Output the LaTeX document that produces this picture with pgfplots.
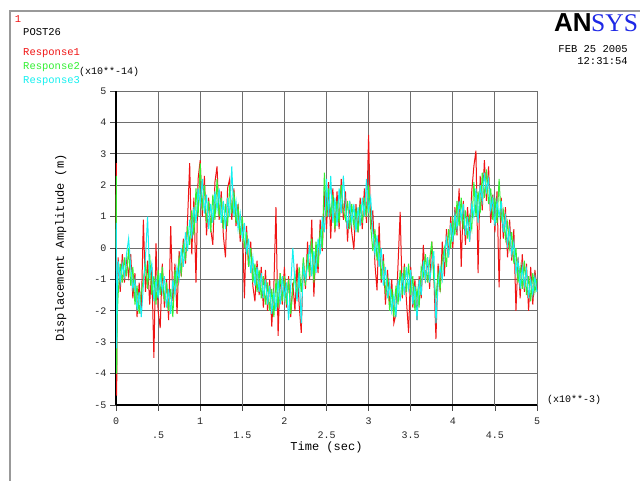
\documentclass[border=0pt]{standalone}
\usepackage{pgfplots}
\usepackage{pgfplotstable}
\usepackage{fontspec}
\pgfplotsset{compat=1.18}
\newfontfamily\mono{Liberation Mono}
\newfontfamily\lsans{Liberation Sans}
\newfontfamily\lserif{Liberation Serif}
\definecolor{gridc}{RGB}{110,110,110}
\definecolor{rred}{RGB}{240,20,20}
\definecolor{rgreen}{RGB}{50,240,50}
\definecolor{rcyan}{RGB}{20,240,240}
\definecolor{ansysblue}{RGB}{30,40,230}

% time in 1e-3 s, amplitude in 1e-14 m
\pgfplotstableread{
t r g c
0 0 0 0
0.004 2.7 2.3 0.8
0.008 -4.7 -4.0 -3.2
0.014 -1.6 -2.2 -1.5
0.025 -0.3 -1.5 -0.4
0.05 -1.4 -0.5 -1.1
0.075 -0.2 -1.1 -0.5
0.1 -1.1 -0.3 -0.9
0.125 -0.3 -0.9 -0.2
0.15 -0.9 0.0 0.3
0.175 -0.2 -1.2 -0.6
0.2 -1.6 -0.6 -1.3
0.225 -0.8 -1.8 -1.0
0.25 -2.2 -1.2 -2.0
0.275 -1.1 -2.1 -1.4
0.3 -2.1 -1.4 -2.2
0.325 0.9 -1.0 -1.2
0.35 -1.4 -0.5 -0.3
0.375 -0.4 -1.3 1.0
0.4 -1.8 -0.2 -0.9
0.425 -0.6 -1.5 -0.5
0.45 -3.5 -0.9 -1.7
0.475 0.15 -1.8 -1.0
0.5 -2.0 -0.7 -1.6
0.525 -2.55 -1.5 -0.8
0.55 -0.5 -0.6 -1.4
0.575 -1.9 -1.7 -0.9
0.6 -1.0 -1.1 -1.9
0.625 -2.3 -2.0 -1.3
0.65 0.7 -1.3 -2.1
0.675 -1.7 -2.2 -1.0
0.7 -0.5 -0.7 -1.5
0.725 -2.1 -1.2 -0.6
0.75 -0.1 -0.3 -1.0
0.775 -0.9 -0.8 0.0
0.8 0.3 0.1 -0.6
0.825 -0.5 -0.4 0.5
0.85 0.9 0.7 -0.1
0.875 2.7 0.1 0.9
0.9 -0.2 1.2 0.3
0.925 1.6 0.4 1.3
0.95 -1.1 1.9 0.8
0.975 2.2 1.0 1.9
1.0 2.8 2.7 1.4
1.025 1.0 1.2 2.2
1.05 2.3 2.0 1.1
1.075 0.4 0.8 1.7
1.1 1.6 1.5 0.6
1.125 0.6 0.5 1.4
1.15 0.1 1.7 0.8
1.175 2.1 0.9 1.8
1.2 2.6 2.2 1.2
1.225 0.9 1.0 1.9
1.25 1.8 1.6 0.8
1.275 0.4 0.6 1.5
1.3 -0.3 1.4 0.6
1.325 1.9 0.7 1.6
1.35 2.2 2.0 1.0
1.375 0.9 1.1 2.6
1.4 1.9 1.8 1.0
1.425 0.7 0.8 1.5
1.45 1.4 1.3 0.6
1.475 0.2 0.4 1.1
1.5 1.0 1.0 0.3
1.525 -1.6 0.0 0.8
1.55 0.7 0.5 -0.2
1.575 -0.6 -0.6 0.3
1.6 0.2 0.0 -0.8
1.625 -1.2 -1.1 -0.3
1.65 -1.7 -0.5 -1.2
1.675 -0.4 -1.4 -0.6
1.7 -1.5 -0.7 -1.4
1.725 -0.6 -1.6 -0.8
1.75 -1.9 -0.9 -1.6
1.775 -0.7 -1.8 -1.0
1.8 -2.0 -1.1 -1.8
1.825 -1.0 -2.0 -1.2
1.85 -2.5 -1.3 -2.1
1.875 -1.2 -2.2 -1.4
1.9 1.3 -1.0 -2.0
1.925 -2.8 -1.9 -1.0
1.95 -0.8 -0.8 -1.8
1.975 -1.8 -1.7 -0.9
2.0 -0.6 -0.9 -1.6
2.025 -1.9 -1.8 -1.1
2.05 -0.9 -1.0 -2.3
2.075 -2.2 -2.1 -1.2
2.1 -1.1 -1.3 0.0
2.125 -2.0 -0.8 -1.1
2.15 -0.5 -1.6 -1.7
2.175 -1.8 -0.6 -0.8
2.2 -2.7 -1.4 -2.4
2.225 -0.4 -0.3 -0.6
2.25 -1.3 -1.2 -1.0
2.275 0.2 -0.2 -0.6
2.3 -1.0 -0.9 0.1
2.325 0.9 0.3 -0.9
2.35 -1.55 -1.1 -0.1
2.375 0.1 0.2 -0.8
2.4 -0.8 -0.6 0.3
2.425 0.9 0.6 -0.2
2.45 -0.1 0.0 1.0
2.475 1.8 2.4 0.5
2.5 0.6 1.0 2.2
2.525 2.1 1.9 1.0
2.55 0.3 1.0 2.3
2.575 1.9 1.7 0.8
2.6 0.5 0.6 1.6
2.625 1.8 1.5 0.7
2.65 0.6 0.8 1.9
2.675 2.2 2.0 1.1
2.7 0.9 1.2 2.3
2.725 1.8 0.9 1.3
2.75 0.2 1.5 0.6
2.775 1.5 0.6 1.5
2.8 0.5 1.4 0.8
2.825 -0.05 0.7 1.4
2.85 1.4 1.2 0.5
2.875 0.5 0.5 1.3
2.9 1.6 1.4 0.7
2.925 0.6 0.8 1.6
2.95 1.9 1.6 1.0
2.975 0.8 1.0 2.2
3.0 3.6 2.0 1.2
3.025 0.6 0.7 1.6
3.05 1.2 -0.1 0.5
3.075 -0.5 0.6 -0.2
3.1 -1.35 -0.4 0.4
3.125 0.8 0.2 -0.6
3.15 -1.1 -1.0 0.0
3.175 -0.2 -0.4 -1.2
3.2 -1.8 -1.4 -0.6
3.225 -0.7 -1.0 -1.6
3.25 -1.9 -2.0 -1.1
3.275 -1.0 -1.3 -2.0
3.3 -2.4 -2.2 -1.5
3.325 -2.1 -1.2 -2.2
3.35 -0.5 -1.8 -1.0
3.375 1.15 -0.7 -1.7
3.4 -1.6 -1.5 -0.8
3.425 -0.5 -0.6 -1.5
3.45 -1.7 -1.4 -0.6
3.475 -2.7 -0.5 -1.3
3.5 -0.6 -1.5 -0.7
3.525 -1.9 -0.9 -1.8
3.55 -1.0 -2.0 -1.2
3.575 -2.3 -1.3 -2.3
3.6 -0.9 -1.9 -1.0
3.625 -1.6 -0.6 -1.5
3.65 0.1 -0.9 -0.4
3.675 -1.1 -0.2 -1.0
3.7 -0.3 -1.1 -0.3
3.725 -1.3 -0.4 -1.1
3.75 0.2 0.2 -0.5
3.775 -0.9 -1.0 -0.1
3.8 -2.9 -1.6 -2.4
3.825 -0.5 -0.8 -1.2
3.85 -1.4 -1.3 -0.6
3.875 0.2 -0.4 -1.0
3.9 -0.9 0.0 -0.2
3.925 0.6 -0.6 0.3
3.95 -0.3 0.6 -0.3
3.975 1.0 0.0 0.8
4.0 0.0 0.9 0.2
4.025 1.3 0.4 1.1
4.05 0.4 1.5 0.6
4.075 1.9 0.7 1.5
4.1 -0.6 1.6 0.9
4.125 1.5 0.6 1.4
4.15 0.1 1.2 0.4
4.175 1.3 0.3 1.0
4.2 0.2 1.0 0.2
4.225 1.8 0.6 1.4
4.25 2.6 2.1 1.0
4.275 3.1 1.0 1.9
4.3 -0.8 1.8 0.8
4.325 2.3 1.1 2.0
4.35 1.2 2.4 1.5
4.375 2.8 1.6 2.4
4.4 1.5 2.5 1.8
4.425 2.6 1.4 2.2
4.45 0.8 1.9 1.2
4.475 1.7 0.9 1.6
4.5 0.5 1.6 0.7
4.525 1.8 0.8 1.5
4.55 -1.25 2.2 1.0
4.575 1.6 0.9 1.5
4.6 0.3 1.2 0.5
4.625 1.3 0.3 1.0
4.65 -0.3 0.8 0.1
4.675 0.9 0.0 0.6
4.7 -0.4 0.5 -0.2
4.725 0.6 -0.5 0.2
4.75 -2.0 0.0 -0.8
4.775 -0.3 -1.1 -0.4
4.8 -1.6 -0.6 -1.3
4.825 -0.2 -1.3 -0.6
4.85 -1.4 -0.4 -1.2
4.875 -0.5 -1.5 -0.7
4.9 -2.0 -0.9 -1.6
4.925 -0.6 -1.7 -1.0
4.95 -1.8 -0.8 -1.5
4.975 -0.7 -1.4 -0.9
5.0 -1.3 -1.0 -1.4
}\resp

\begin{document}
\begin{tikzpicture}[x=1pt,y=1pt]
\useasboundingbox (0pt,0pt) rectangle (640pt,481pt);
\fill[white] (0pt,0pt) rectangle (640pt,481pt);
\draw[black!40, line width=1.2pt] (10pt,0pt) -- (10pt,470pt) -- (640pt,470pt);

\begin{axis}[
    at={(116pt,76pt)}, anchor=south west,
    scale only axis,
    width=421pt, height=314pt,
    xmin=0, xmax=5, ymin=-5, ymax=5,
    axis x line=bottom, axis y line=left,
    axis line style={-, black},
    x axis line style={line width=1.6pt},
    y axis line style={line width=2.4pt},
    xtick={0,1,2,3,4,5},
    xticklabels={0,1,2,3,4,5},
    extra x ticks={0.5,1.5,2.5,3.5,4.5},
    extra x tick labels={.5,1.5,2.5,3.5,4.5},
    extra x tick style={grid=major, xticklabel style={yshift=-14pt}},
    ytick={-5,-4,-3,-2,-1,0,1,2,3,4,5},
    yticklabels={-5,-4,-3,-2,-1,0,1,2,3,4,5},
    tick align=outside,
    major tick length=6pt,
    tick style={black!70, line width=0.8pt},
    grid=major,
    grid style={gridc, line width=0.9pt},
    ticklabel style={font=\mono\fontsize{10}{10}\selectfont, text=black!85},
    xticklabel style={yshift=-3pt},
    xlabel={Time (sec)},
    ylabel={Displacement Amplitude (m)},
    xlabel style={font=\mono\fontsize{12}{12}\selectfont, at={(axis description cs:0.5,-0.134)}, anchor=center},
    ylabel style={font=\mono\fontsize{12}{12}\selectfont, at={(axis description cs:-0.131,0.5)}, anchor=center},
    clip=false,
]
\addplot[rred, line width=1pt] table[x=t, y=r] {\resp};
\addplot[rgreen, line width=1pt] table[x=t, y=g] {\resp};
\addplot[rcyan, line width=1pt] table[x=t, y=c] {\resp};
\end{axis}

\node[text=rred, font=\mono\fontsize{10.5}{10.5}\selectfont] at (18pt,462pt) {1};
\node[anchor=west, inner sep=0pt, font=\mono\fontsize{10.5}{10.5}\selectfont] at (23pt,449pt) {POST26};
\node[anchor=west, inner sep=0pt, text=rred, font=\mono\fontsize{10.5}{10.5}\selectfont] at (23pt,428pt) {Response1};
\node[anchor=west, inner sep=0pt, text=rgreen, font=\mono\fontsize{10.5}{10.5}\selectfont] at (23pt,414pt) {Response2};
\node[anchor=west, inner sep=0pt, text=rcyan, font=\mono\fontsize{10.5}{10.5}\selectfont] at (23pt,400pt) {Response3};
\node[anchor=west, inner sep=0pt, font=\mono\fontsize{10}{10}\selectfont] at (79pt,409.5pt) {(x10**-14)};
\node[anchor=west, inner sep=0pt, font=\mono\fontsize{10}{10}\selectfont] at (547pt,81pt) {(x10**-3)};
\node[anchor=base west, inner sep=0pt, font=\lsans\bfseries\fontsize{26}{26}\selectfont] at (554pt,449pt) {AN};
\node[anchor=base west, inner sep=0pt, text=ansysblue, font=\lserif\fontsize{25.5}{25.5}\selectfont] at (591pt,449pt) {SYS};
\node[anchor=east, inner sep=0pt, font=\mono\fontsize{10.5}{10.5}\selectfont] at (628pt,432pt) {FEB 25 2005};
\node[anchor=east, inner sep=0pt, font=\mono\fontsize{10.5}{10.5}\selectfont] at (628pt,420pt) {12:31:54};
\end{tikzpicture}
\end{document}
